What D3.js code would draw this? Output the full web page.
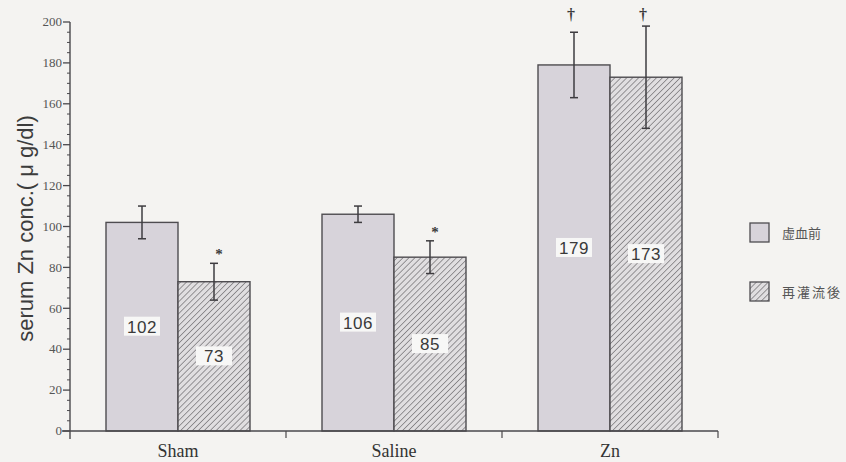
<!DOCTYPE html>
<html>
<head>
<meta charset="utf-8">
<script src="https://cdn.jsdelivr.net/npm/d3@7"></script>
<style>
  html, body { margin: 0; padding: 0; background: #f4f3f1; }
  svg { display: block; }
</style>
</head>
<body>
<svg id="chart" width="846" height="462"></svg>
<script>
// Serum zinc concentration by treatment group, before ischemia vs after reperfusion
const categories = ["Sham", "Saline", "Zn"];
const seriesNames = ["虚血前", "再灌流後"];
const beforeValues = [102, 106, 179];
const afterValues = [73, 85, 173];
const beforeErrors = [8, 4, 16];
const afterErrors = [9, 8, 25];
// significance marks per bar
const beforeMarks = [null, null, "†"];
const afterMarks = ["*", "*", "†"];
const yTicks = [0, 20, 40, 60, 80, 100, 120, 140, 160, 180, 200];
const yTitle = "serum Zn conc.( μ g/dl)";

const rows = [];
categories.forEach((c, i) => {
  rows.push({ cat: c, series: seriesNames[0], value: beforeValues[i], err: beforeErrors[i], mark: beforeMarks[i] });
  rows.push({ cat: c, series: seriesNames[1], value: afterValues[i], err: afterErrors[i], mark: afterMarks[i] });
});

const svg = d3.select("#chart");
const margin = { left: 70, right: 128, top: 22, bottom: 31 };
const W = 846, H = 462;

const x0 = d3.scaleBand().domain(categories).range([margin.left, W - margin.right]).padding(0);
const x1 = d3.scaleBand().domain(seriesNames).range([0, x0.bandwidth()]).paddingInner(0).paddingOuter(0.5);
const y = d3.scaleLinear().domain([0, 200]).range([H - margin.bottom, margin.top]);

const defs = svg.append("defs");
const hatch = defs.append("pattern")
  .attr("id", "hatch").attr("patternUnits", "userSpaceOnUse")
  .attr("width", 4.2).attr("height", 4.2)
  .attr("patternTransform", "rotate(45)");
hatch.append("rect").attr("width", 4.2).attr("height", 4.2).attr("fill", "#e0dee0");
hatch.append("line").attr("x1", 0).attr("y1", 0).attr("x2", 0).attr("y2", 4.2)
  .attr("stroke", "#6c6a6d").attr("stroke-width", 1.3);

const fillFor = s => s === seriesNames[0] ? "#d7d3da" : "url(#hatch)";

// Bars
const groups = svg.append("g").selectAll("g").data(categories).join("g")
  .attr("transform", d => `translate(${x0(d)},0)`);

const bars = groups.selectAll("g.bar").data(c => rows.filter(r => r.cat === c)).join("g").attr("class", "bar");

bars.append("rect")
  .attr("x", d => x1(d.series))
  .attr("y", d => y(d.value))
  .attr("width", x1.bandwidth())
  .attr("height", d => y(0) - y(d.value))
  .attr("fill", d => fillFor(d.series))
  .attr("stroke", "#4e4c50").attr("stroke-width", 1.4);

// Error bars
const cx = d => x1(d.series) + x1.bandwidth() / 2;
bars.append("line")
  .attr("x1", cx).attr("x2", cx)
  .attr("y1", d => y(d.value + d.err)).attr("y2", d => y(d.value - d.err))
  .attr("stroke", "#3e3c40").attr("stroke-width", 1.5);
[1, -1].forEach(sgn => {
  bars.append("line")
    .attr("x1", d => cx(d) - 4).attr("x2", d => cx(d) + 4)
    .attr("y1", d => y(d.value + sgn * d.err)).attr("y2", d => y(d.value + sgn * d.err))
    .attr("stroke", "#3e3c40").attr("stroke-width", 1.5);
});

// Significance symbols: asterisks just above the error bar, daggers on a common line
bars.filter(d => d.mark).append("text")
  .attr("x", d => cx(d) + (d.mark === "*" ? 5 : -3))
  .attr("y", d => d.mark === "†" ? y(201) : y(d.value + d.err) - 4)
  .attr("text-anchor", "middle")
  .attr("font-family", "'Liberation Serif', 'DejaVu Serif', serif")
  .attr("font-size", d => d.mark === "*" ? 15 : 16)
  .attr("font-weight", "bold")
  .attr("fill", "#3a3a3a")
  .text(d => d.mark);

// Value labels in white boxes at half the bar height
const lab = bars.append("g")
  .attr("transform", d => `translate(${cx(d)},${y(d.value / 2)})`);
lab.append("rect")
  .attr("x", -18).attr("y", -10).attr("width", 36).attr("height", 19)
  .attr("fill", "#f7f7f6");
lab.append("text")
  .attr("text-anchor", "middle").attr("dy", "0.36em")
  .attr("font-family", "'Liberation Sans', Arial, sans-serif")
  .attr("font-size", 17).attr("fill", "#3a3a3a")
  .attr("letter-spacing", 0.5)
  .text(d => d.value);

// Y axis: major ticks outward, short minor ticks every 5
const axisColor = "#4a484c";
const yAxisG = svg.append("g").attr("transform", `translate(${margin.left},0)`);
yAxisG.append("line").attr("x1", 0).attr("x2", 0)
  .attr("y1", y(200)).attr("y2", y(0) + 8)
  .attr("stroke", axisColor).attr("stroke-width", 1.4);
const minor = d3.range(0, 201, 5).filter(v => v % 20 !== 0);
yAxisG.selectAll("line.minor").data(minor).join("line").attr("class", "minor")
  .attr("x1", -3).attr("x2", 0).attr("y1", d => y(d)).attr("y2", d => y(d))
  .attr("stroke", axisColor).attr("stroke-width", 1);
yAxisG.selectAll("line.major").data(yTicks).join("line").attr("class", "major")
  .attr("x1", -7).attr("x2", 0).attr("y1", d => y(d)).attr("y2", d => y(d))
  .attr("stroke", axisColor).attr("stroke-width", 1.3);
yAxisG.selectAll("text.tick").data(yTicks).join("text").attr("class", "tick")
  .attr("x", -8).attr("y", d => y(d)).attr("dy", "0.33em")
  .attr("text-anchor", "end")
  .attr("font-family", "'Liberation Serif', 'Times New Roman', serif")
  .attr("font-size", 13).attr("fill", "#555")
  .text(d => d);

// X axis with ticks at category boundaries
const xAxisG = svg.append("g");
xAxisG.append("line")
  .attr("x1", margin.left - 8).attr("x2", W - margin.right)
  .attr("y1", y(0)).attr("y2", y(0))
  .attr("stroke", axisColor).attr("stroke-width", 1.4);
const bounds = categories.slice(1).map(c => x0(c)).concat([W - margin.right]);
xAxisG.selectAll("line.xt").data(bounds).join("line").attr("class", "xt")
  .attr("x1", d => d).attr("x2", d => d).attr("y1", y(0)).attr("y2", y(0) + 7)
  .attr("stroke", axisColor).attr("stroke-width", 1.2);
xAxisG.selectAll("text").data(categories).join("text")
  .attr("x", d => x0(d) + x0.bandwidth() / 2)
  .attr("y", y(0) + 26)
  .attr("text-anchor", "middle")
  .attr("font-family", "'Liberation Serif', 'Times New Roman', serif")
  .attr("font-size", 18).attr("fill", "#333")
  .text(d => d);

// Y axis title
svg.append("text")
  .attr("transform", `translate(33,${(y(0) + y(200)) / 2 + 2}) rotate(-90)`)
  .attr("text-anchor", "middle")
  .attr("font-family", "'Liberation Sans', Arial, sans-serif")
  .attr("font-size", 22).attr("fill", "#3c3c3c")
  .text(yTitle);

// Legend
const legend = svg.append("g").attr("transform", "translate(750,223)");
const li = legend.selectAll("g").data(seriesNames).join("g")
  .attr("transform", (d, i) => `translate(0,${i * 59})`);
li.append("rect").attr("width", 19).attr("height", 19)
  .attr("fill", d => fillFor(d))
  .attr("stroke", "#4e4c50").attr("stroke-width", 1.3);
li.append("text")
  .attr("x", 32).attr("y", 10).attr("dy", "0.35em")
  .attr("font-family", "'Noto Sans CJK JP', sans-serif")
  .attr("font-size", 13).attr("fill", "#555")
  .attr("letter-spacing", (d, i) => i === 0 ? 0 : 2)
  .text(d => d);
</script>
</body>
</html>
